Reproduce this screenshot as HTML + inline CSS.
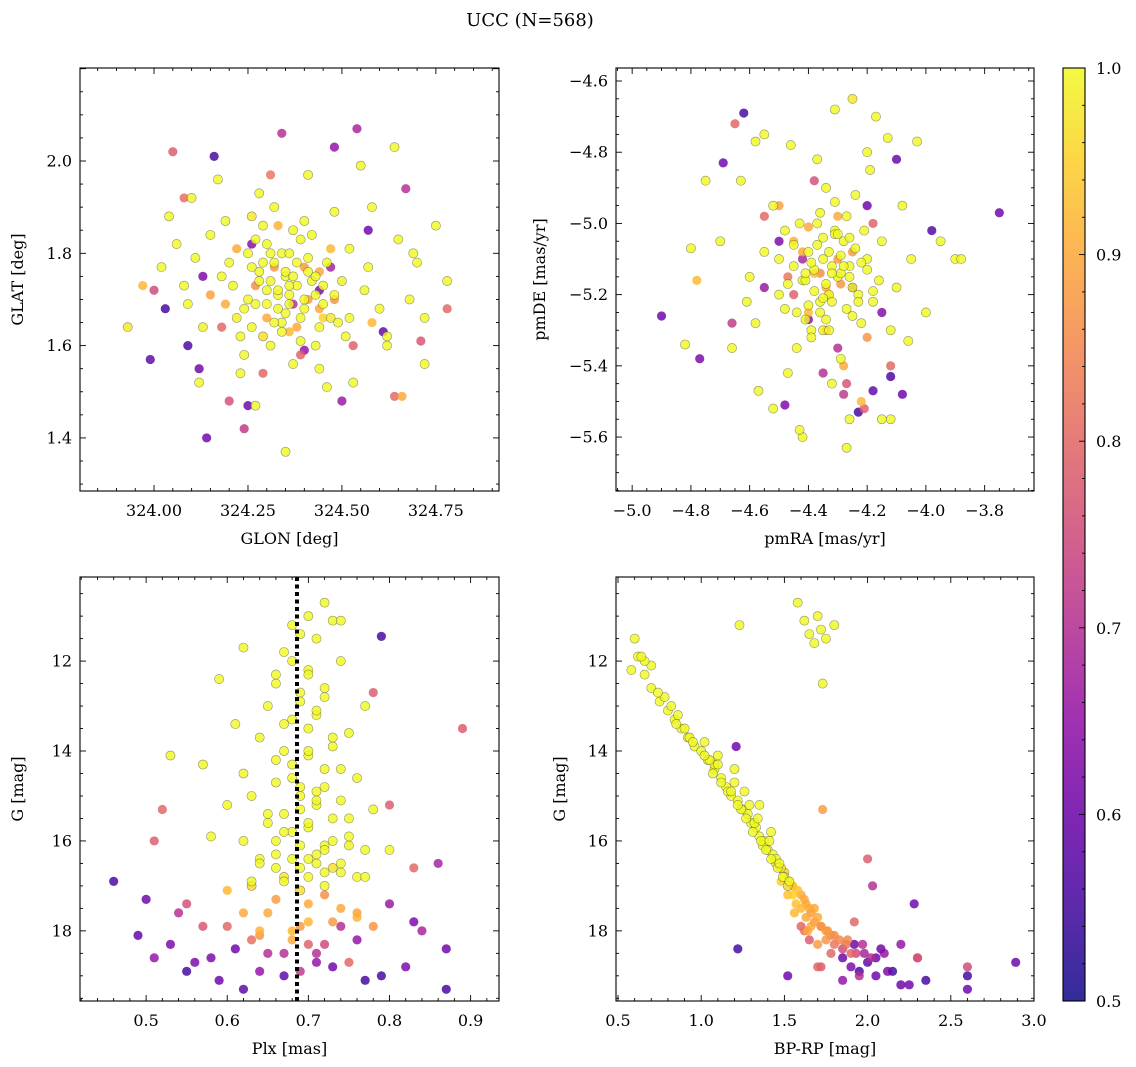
<!DOCTYPE html>
<html><head><meta charset="utf-8">
<style>
html,body{margin:0;padding:0;background:#fff;}
svg{display:block;font-family:"DejaVu Serif","Liberation Serif",serif;}
</style></head>
<body>
<svg id="fig" width="1136" height="1067" viewBox="0 0 1136 1067" xmlns="http://www.w3.org/2000/svg">
<defs>
<linearGradient id="plasma" x1="0" y1="1" x2="0" y2="0">
<stop offset="0" stop-color="#0d0887"/><stop offset="0.1" stop-color="#41049d"/><stop offset="0.2" stop-color="#6a00a8"/><stop offset="0.3" stop-color="#8f0da4"/><stop offset="0.4" stop-color="#b12a90"/><stop offset="0.5" stop-color="#cc4778"/><stop offset="0.6" stop-color="#e16462"/><stop offset="0.7" stop-color="#f2844b"/><stop offset="0.8" stop-color="#fca636"/><stop offset="0.9" stop-color="#fcce25"/><stop offset="1" stop-color="#f0f921"/>
</linearGradient>
</defs>
<text x="530" y="26" font-size="18" text-anchor="middle">UCC (N=568)</text>
</svg>
<script>
// Panel 1: GLON / GLAT
const glonVals=[324.30,324.35,324.40,324.38,324.33,324.42,324.28,324.36,324.45,324.31,
324.25,324.50,324.20,324.47,324.39,324.34,324.29,324.43,324.22,324.52,
324.18,324.56,324.15,324.60,324.26,324.48,324.37,324.32,324.44,324.11,
324.06,324.65,324.10,324.70,324.13,324.62,324.23,324.53,324.08,324.58,
324.04,324.75,324.12,324.68,324.27,324.46,324.17,324.55,324.35,324.64,
324.02,324.72,324.19,324.51,324.28,324.41,324.24,324.57,324.09,324.78,
324.30,324.40,324.36,324.22,324.48,324.33,324.27,324.44,324.15,324.58,
324.05,324.64,324.20,324.31,324.53,324.18,324.71,324.08,324.39,324.29,
324.16,324.54,324.25,324.48,323.99,324.03,324.13,324.50,324.57,324.67,
324.34,324.44,324.24,324.61,324.12,324.40,324.09,324.47,324.37,324.26,
323.93,323.97,324.78,324.72,324.66,324.00,324.62,324.69,324.45,324.14,
324.31,324.36,324.41,324.27,324.34,324.39,324.32,324.43,324.37,324.29];
const glatVals=[1.72,1.75,1.70,1.78,1.68,1.74,1.76,1.71,1.73,1.80,
1.70,1.74,1.78,1.66,1.83,1.65,1.62,1.60,1.66,1.81,
1.75,1.72,1.84,1.68,1.88,1.89,1.56,1.90,1.55,1.79,
1.82,1.83,1.92,1.78,1.64,1.60,1.54,1.52,1.73,1.90,
1.88,1.86,1.52,1.70,1.47,1.51,1.96,1.99,1.37,2.03,
1.77,1.66,1.87,1.62,1.93,1.97,1.58,1.77,1.69,1.74,
1.66,1.77,1.63,1.81,1.70,1.86,1.73,1.68,1.71,1.65,
2.02,1.49,1.48,1.97,1.60,1.64,1.61,1.92,1.58,1.54,
2.01,2.07,1.47,2.03,1.57,1.68,1.75,1.48,1.85,1.94,
2.06,1.72,1.42,1.63,1.55,1.59,1.60,1.77,1.69,1.82,
1.64,1.73,1.68,1.56,1.49,1.72,1.62,1.80,1.66,1.40,
1.74,1.69,1.76,1.69,1.80,1.66,1.65,1.71,1.75,1.78];
const probPos=[1,1,1,1,1,1,1,1,1,1,
1,.99,1,.98,1,1,.97,1,.99,1,
1,1,1,1,.98,1,1,1,1,1,
1,1,1,1,.99,1,1,1,1,1,
1,1,1,1,1,1,1,1,1,1,
1,1,1,1,1,1,1,1,1,1,
.9,.88,.92,.9,.87,.91,.86,.9,.89,.92,
.78,.8,.76,.82,.79,.8,.77,.81,.79,.8,
.55,.68,.6,.65,.58,.55,.62,.66,.6,.7,
.7,.62,.72,.58,.6,.65,.56,.68,.7,.63,
.98,.92,.8,1,.9,.75,1,1,.95,.6,
1,1,1,1,1,1,1,1,1,1];
const glonCore=[324.21,324.24,324.26,324.28,324.30,324.32,324.33,324.35,324.36,324.38,
324.40,324.41,324.43,324.44,324.46,324.48,324.30,324.34,324.37,324.39,
324.23,324.27,324.31,324.35,324.42,324.45,324.49,324.25,324.29,324.33,
324.38,324.41,324.47,324.19,324.52,324.36,324.32,324.44,324.26,324.40];
const glatCore=[1.73,1.68,1.77,1.74,1.69,1.78,1.71,1.67,1.80,1.73,
1.68,1.79,1.75,1.64,1.78,1.71,1.82,1.63,1.85,1.61,
1.62,1.83,1.60,1.76,1.84,1.69,1.65,1.80,1.86,1.72,
1.64,1.70,1.81,1.69,1.66,1.73,1.77,1.76,1.64,1.87];
const probPosCore=[1,1,1,1,1,1,1,1,1,1,1,1,1,1,1,1,1,1,1,1,1,1,1,1,1,1,1,1,1,1,
.9,.88,.92,.9,1,1,.87,.9,1,1];
// Panel 2: pmRA / pmDE
const pmraVals=[-4.35,-4.30,-4.40,-4.28,-4.33,-4.38,-4.25,-4.42,-4.31,-4.36,
-4.45,-4.20,-4.50,-4.18,-4.27,-4.48,-4.22,-4.55,-4.15,-4.39,
-4.60,-4.10,-4.52,-4.12,-4.34,-4.44,-4.24,-4.58,-4.05,-4.29,
-4.70,-4.00,-4.63,-3.95,-4.37,-4.47,-4.19,-4.66,-4.08,-4.32,
-4.75,-3.90,-4.55,-4.03,-4.31,-4.42,-4.17,-4.57,-4.12,-4.27,
-4.80,-4.52,-4.46,-4.20,-4.35,-4.26,-4.41,-4.13,-4.61,-4.06,
-4.33,-4.25,-4.40,-4.30,-4.20,-4.45,-4.36,-4.28,-4.50,-4.22,
-4.21,-4.65,-4.38,-4.47,-4.18,-4.55,-4.27,-4.34,-4.45,-4.12,
-4.90,-3.75,-4.62,-4.77,-4.23,-4.18,-4.12,-3.98,-4.10,-4.48,
-4.40,-4.30,-4.50,-4.25,-4.35,-4.15,-4.55,-4.20,-4.42,-4.28,
-4.58,-4.43,-3.88,-4.78,-4.82,-4.66,-4.69,-4.15,-4.25,-4.08,
-4.32,-4.37,-4.29,-4.34,-4.39,-4.31,-4.36,-4.26,-4.41,-4.33];
const pmdeVals=[-5.10,-5.15,-5.08,-5.05,-5.20,-5.13,-5.18,-5.16,-5.02,-5.25,
-5.12,-5.10,-5.20,-5.22,-4.98,-5.02,-5.28,-5.08,-5.05,-5.30,
-5.15,-5.18,-4.95,-5.30,-4.90,-5.35,-4.92,-5.28,-5.10,-5.38,
-5.05,-5.25,-4.88,-5.05,-4.82,-5.42,-4.85,-5.35,-4.95,-5.45,
-4.88,-5.10,-4.75,-4.77,-4.68,-5.60,-4.70,-5.47,-5.55,-5.63,
-5.07,-5.52,-4.78,-4.80,-5.30,-5.55,-5.27,-4.76,-5.22,-5.33,
-5.20,-5.08,-5.25,-4.98,-5.32,-5.05,-5.14,-5.40,-4.95,-5.50,
-5.52,-4.72,-4.88,-5.15,-5.00,-4.98,-5.45,-5.30,-5.20,-5.40,
-5.26,-4.97,-4.69,-5.38,-5.53,-5.47,-5.43,-5.02,-4.82,-5.51,
-5.27,-5.35,-5.05,-5.18,-5.42,-5.25,-5.18,-4.95,-5.10,-5.48,
-4.77,-5.58,-5.10,-5.16,-5.34,-5.28,-4.83,-5.55,-4.65,-5.48,
-5.12,-5.06,-5.14,-5.17,-5.11,-5.03,-5.22,-5.12,-5.16,-5.08];
const probPm=[1,1,1,1,1,1,1,1,1,1,
1,1,1,1,1,1,1,1,1,1,
1,1,1,1,1,1,1,1,1,1,
1,1,1,1,1,1,1,1,1,1,
1,1,1,1,1,1,1,1,1,1,
1,1,1,1,1,1,1,1,1,1,
.9,.88,.92,.9,.87,.91,.86,.9,.89,.92,
.78,.8,.76,.82,.79,.8,.77,.81,.79,.8,
.6,.6,.55,.62,.55,.58,.56,.57,.6,.62,
.65,.7,.62,.68,.7,.63,.66,.6,.68,.72,
1,1,1,.92,1,.72,.6,1,.98,.6,
1,1,1,1,1,1,1,1,1,1];
const pmraCore=[-4.45,-4.41,-4.38,-4.35,-4.32,-4.29,-4.26,-4.23,-4.20,-4.47,
-4.43,-4.40,-4.37,-4.34,-4.30,-4.27,-4.24,-4.21,-4.18,-4.50,
-4.36,-4.33,-4.31,-4.28,-4.39,-4.44,-4.25,-4.22,-4.48,-4.16,
-4.34,-4.30,-4.38,-4.42,-4.26,-4.35,-4.29,-4.40,-4.23,-4.32];
const pmdeCore=[-5.06,-5.14,-5.19,-5.04,-5.22,-5.09,-5.15,-5.20,-5.13,-5.17,
-5.00,-5.23,-5.00,-5.27,-5.03,-5.24,-5.07,-5.02,-5.19,-5.10,
-4.97,-5.30,-4.94,-5.12,-5.32,-5.25,-5.26,-5.11,-5.24,-5.16,
-5.18,-5.10,-5.14,-5.08,-5.04,-5.21,-5.17,-5.01,-5.22,-5.14];
const probPmCore=[1,1,1,1,1,1,1,1,1,1,1,1,1,1,1,1,1,1,1,1,1,1,1,1,1,1,1,1,1,1,
.9,.88,.92,.9,1,1,.87,.9,1,1];
// Panel 3: Plx / G
const plxVals=[.72,.70,.73,.68,.69,.71,.67,.74,.70,.66,
.69,.72,.65,.71,.68,.70,.75,.64,.73,.67,
.70,.68,.72,.62,.76,.66,.69,.71,.63,.74,
.60,.78,.67,.73,.65,.70,.68,.75,.62,.72,
.77,.66,.64,.71,.69,.74,.58,.80,.67,.72,
.53,.57,.59,.61,.62,.79,.74,.77,.89,.66,
.62,.66,.70,.74,.78,.64,.72,.68,.76,.60,
.52,.51,.55,.60,.80,.83,.57,.63,.70,.75,
.46,.50,.49,.53,.55,.58,.61,.64,.67,.86,
.71,.73,.76,.79,.82,.84,.87,.80,.77,.69,
.51,.54,.56,.59,.62,.65,.78,.83,.74,.87,
.64,.67,.70,.73,.76,.63,.69,.72,.66,.75];
const gPlxVals=[10.7,11.0,11.1,11.2,11.4,11.5,11.8,12.0,12.2,12.5,
12.7,12.8,13.0,13.2,13.3,13.5,13.6,13.7,13.9,14.0,
14.1,14.3,14.4,14.5,14.6,14.7,14.8,14.9,15.0,15.1,
15.2,15.3,15.4,15.5,15.6,15.7,15.8,15.9,16.0,16.1,
16.2,16.3,16.4,16.5,16.6,16.7,15.9,16.2,16.9,17.0,
14.1,14.3,12.4,13.4,11.7,11.45,11.1,13.0,13.5,12.3,
17.6,17.3,17.8,17.5,17.9,18.0,17.2,18.2,17.6,17.1,
15.3,16.0,17.4,17.9,15.2,16.6,17.9,18.2,18.3,18.7,
16.9,17.3,18.1,18.3,18.9,18.6,18.4,18.9,19.0,16.5,
18.5,18.8,18.2,19.0,18.8,18.0,18.4,17.4,19.1,18.9,
18.6,17.6,18.7,19.1,19.3,18.5,12.7,17.8,17.9,19.3,
16.5,16.8,16.4,16.6,16.8,17.0,17.1,16.2,16.0,16.1];
const probPlx=[1,1,1,1,1,1,1,1,1,1,
1,1,1,1,1,1,1,1,1,1,
1,1,1,1,1,1,1,1,1,1,
1,1,1,1,1,1,1,1,1,1,
1,1,1,1,1,1,1,1,1,1,
1,1,1,1,1,.55,1,1,.78,1,
.9,.88,.92,.9,.87,.91,.86,.9,.89,.92,
.8,.78,.76,.8,.78,.8,.77,.81,.79,.8,
.55,.6,.58,.62,.55,.62,.6,.65,.58,.68,
.7,.6,.65,.55,.62,.68,.6,.66,.55,.72,
.65,.7,.62,.6,.58,.7,.78,.62,.7,.55,
1,.98,1,.97,1,.96,.97,1,1,.99];
const plxCore=[.68,.70,.72,.69,.71,.67,.73,.70,.66,.74,
.68,.72,.69,.71,.65,.75,.70,.67,.73,.69,
.71,.68,.74,.66,.72,.70,.63,.77,.69,.71,
.65,.73,.68,.70,.64,.76,.72,.67,.71,.69];
const gPlxCore=[12.0,12.3,12.6,12.9,13.1,13.4,13.7,14.0,14.2,14.4,
14.6,14.8,15.0,15.2,15.4,15.5,15.6,15.8,16.0,16.1,
16.3,16.4,16.5,16.6,16.7,16.8,16.9,16.8,15.3,15.1,
17.6,17.8,18.0,17.4,18.1,17.7,18.3,18.5,18.7,17.9];
const probPlxCore=[1,1,1,1,1,1,1,1,1,1,1,1,1,1,1,1,1,1,1,1,1,1,1,1,1,1,1,1,1,1,
.9,.88,.92,.9,.87,.91,.75,.7,.65,.88];
const plxRef=[0.686];
// Panel 4: BP-RP / G
const bprpVals=[.60,.62,.66,.70,.75,.80,.84,.88,.92,.96,
1.00,1.04,1.08,1.12,1.15,1.18,1.22,1.25,1.28,1.30,
1.33,1.35,1.38,1.40,1.43,1.45,1.48,1.50,1.53,1.55,
.70,.78,.86,.93,1.02,1.08,1.20,1.26,1.35,1.42,
1.23,1.58,1.62,1.70,1.72,1.75,1.68,1.65,1.73,1.80,
1.55,1.60,1.63,1.66,1.70,1.72,1.75,1.78,1.68,1.73,
1.60,1.65,1.80,1.85,1.90,1.62,1.72,1.78,2.00,1.92,
1.85,1.90,1.95,2.00,2.05,2.10,2.15,2.20,1.98,2.08,
2.25,2.30,2.35,2.60,2.60,2.89,2.28,1.22,1.52,2.03,
1.21,2.60,2.30,1.92,1.85,1.95,1.70,2.12,1.88,2.02,
.74,.82,.90,1.05,1.16,1.24,1.32,1.37,1.45,1.50,
1.58,1.62,1.65,1.48,1.52,1.56,.66,.58,.64,1.10];
const gCmdVals=[11.5,11.9,12.3,12.6,12.9,13.1,13.3,13.5,13.7,13.9,
14.0,14.2,14.4,14.6,14.8,15.0,15.1,15.3,15.4,15.6,
15.7,15.9,16.0,16.2,16.3,16.5,16.6,16.7,16.9,17.0,
12.1,12.8,13.2,13.7,13.8,14.3,14.4,14.9,15.2,15.8,
11.2,10.7,11.1,11.0,11.3,11.5,11.6,11.4,12.5,11.2,
17.0,17.2,17.4,17.6,17.7,17.9,18.0,18.1,17.5,15.3,
17.9,18.2,18.3,18.4,18.5,18.0,18.8,18.5,16.4,17.8,
18.6,18.8,18.9,18.7,19.0,18.5,18.9,19.2,18.5,18.4,
19.2,18.6,19.1,19.0,19.3,18.7,17.4,18.4,19.0,17.0,
13.9,18.8,18.6,18.3,19.1,19.0,18.8,18.9,18.2,18.6,
12.7,13.0,13.5,14.2,14.9,15.3,15.6,16.1,16.4,16.8,
17.1,17.3,17.5,16.9,17.2,17.6,12.0,12.2,11.9,14.1];
const probCmd=[1,1,1,1,1,1,1,1,1,1,
1,1,1,1,1,1,1,1,1,1,
1,1,1,1,1,.98,.97,.96,.95,.94,
1,1,1,1,1,1,1,1,1,1,
1,1,1,1,1,1,1,1,1,1,
.92,.9,.9,.88,.9,.87,.88,.86,.9,.88,
.8,.78,.82,.75,.8,.82,.78,.8,.78,.8,
.6,.62,.55,.58,.6,.65,.55,.6,.68,.6,
.6,.7,.55,.55,.6,.6,.6,.55,.6,.7,
.6,.75,.78,.6,.65,.7,.8,.62,.85,.7,
1,1,1,1,1,1,1,1,1,1,
.93,.9,.9,.95,.93,.92,1,1,1,1];
const bprpCore=[.85,.95,1.02,1.07,1.12,1.18,1.22,1.27,1.31,1.36,
1.39,1.42,1.46,1.49,1.52,1.55,1.57,1.60,1.63,1.66,
1.10,1.20,1.29,1.34,1.41,1.47,1.53,1.68,1.72,1.76,
1.80,1.83,1.87,1.64,1.70,1.75,1.93,1.97,2.05,2.20];
const gCmdCore=[13.4,13.8,14.1,14.5,14.7,14.9,15.2,15.5,15.8,16.0,
16.2,16.4,16.6,16.8,17.0,17.2,17.4,17.5,17.7,17.9,
14.3,14.7,15.2,15.5,16.0,16.5,16.9,17.8,17.9,18.0,
18.1,18.2,18.3,18.0,18.3,18.2,18.5,18.3,18.6,18.3];
const probCmdCore=[1,1,1,1,1,1,1,1,1,1,1,1,1,1,
.96,.95,.93,.92,.9,.9,
1,1,1,1,1,1,1,
.88,.87,.88,.86,.85,.82,.9,.88,.87,.75,.7,.6,.65];
const cbarTicks=[0.5,0.6,0.7,0.8,0.9,1.0];

const NS='http://www.w3.org/2000/svg';
const svg=document.getElementById('fig');
function mk(tag,attrs,parent){const e=document.createElementNS(NS,tag);for(const k in attrs)e.setAttribute(k,attrs[k]);(parent||svg).appendChild(e);return e;}
const stops=[[0,[13,8,135]],[.1,[65,4,157]],[.2,[106,0,168]],[.3,[143,13,164]],[.4,[177,42,144]],[.5,[204,71,120]],[.6,[225,100,98]],[.7,[242,132,75]],[.8,[252,166,54]],[.9,[252,206,37]],[1,[240,249,33]]];
function plasma(p){let t=Math.max(0,Math.min(1,(p-0.5)/0.5));for(let i=1;i<stops.length;i++){if(t<=stops[i][0]){const a=stops[i-1],b=stops[i];const f=(t-a[0])/(b[0]-a[0]);const c=a[1].map((v,j)=>Math.round(v+(b[1][j]-v)*f));return 'rgb('+c.join(',')+')';}}return 'rgb(240,249,33)';}

function panel(cfg){
  const g=mk('g',{});
  
  
  const {x0,x1,y0,y1,xmin,xmax,ymin,ymax,inv}=cfg;
  const sx=v=>x0+(v-xmin)/(xmax-xmin)*(x1-x0);
  const sy=inv?(v=>y0+(v-ymin)/(ymax-ymin)*(y1-y0)):(v=>y1-(v-ymin)/(ymax-ymin)*(y1-y0));
  const clip='clip-'+cfg.name;
  const cp=mk('clipPath',{id:clip},g);mk('rect',{x:x0,y:y0,width:x1-x0,height:y1-y0},cp);
  const pts=mk('g',{'clip-path':'url(#'+clip+')'},g);
  
  
  const idx=cfg.xs.map((_,i)=>i).sort((a,b)=>cfg.ps[a]-cfg.ps[b]);
  idx.forEach(i=>{
    const c=mk('circle',{cx:sx(cfg.xs[i]),cy:sy(cfg.ys[i]),r:4.6,fill:plasma(cfg.ps[i]),'fill-opacity':0.82,stroke:cfg.ps[i]>0.95?'rgba(60,60,60,0.55)':'none','stroke-width':0.6},pts);
    
    
  });
  if(cfg.vline!==undefined){
    const l=mk('line',{x1:sx(cfg.vline),x2:sx(cfg.vline),y1:y0,y2:y1,stroke:'#000','stroke-width':4,'stroke-dasharray':'4,3.5'},g);
    
    
  }
  const fr=mk('rect',{x:x0,y:y0,width:x1-x0,height:y1-y0,fill:'none',stroke:'#000','stroke-width':1.1},g);
  
  
  const ax=mk('g',{stroke:'#000','stroke-width':0.9},g);
  const eps=1e-9;
  for(let v=Math.ceil(xmin/cfg.xminor-eps)*cfg.xminor;v<=xmax+eps;v+=cfg.xminor){
    const X=sx(v);const maj=Math.abs(v/cfg.xmajor-Math.round(v/cfg.xmajor))<1e-6;const L=maj?6:3;
    mk('line',{x1:X,x2:X,y1:y1,y2:y1-L},ax);mk('line',{x1:X,x2:X,y1:y0,y2:y0+L},ax);
  }
  const ylo=Math.min(ymin,ymax),yhi=Math.max(ymin,ymax);
  for(let v=Math.ceil(ylo/cfg.yminor-eps)*cfg.yminor;v<=yhi+eps;v+=cfg.yminor){
    const Y=sy(v);const maj=Math.abs(v/cfg.ymajor-Math.round(v/cfg.ymajor))<1e-6;const L=maj?6:3;
    mk('line',{x1:x0,x2:x0+L,y1:Y,y2:Y},ax);mk('line',{x1:x1,x2:x1-L,y1:Y,y2:Y},ax);
  }
  cfg.xticks.forEach(v=>{const t=mk('text',{x:sx(v),y:y1+25,'font-size':16,'text-anchor':'middle'},g);t.textContent=(v<0?'\u2212':'')+Math.abs(v).toFixed(cfg.xdec);});
  cfg.yticks.forEach(v=>{const t=mk('text',{x:x0-8,y:sy(v)+5.5,'font-size':16,'text-anchor':'end'},g);t.textContent=(v<0?'\u2212':'')+Math.abs(v).toFixed(cfg.ydec);});
  const xt=mk('text',{x:(x0+x1)/2,y:y1+53,'font-size':16,'text-anchor':'middle'},g);xt.textContent=cfg.xlabel;
  
  
  const yx=cfg.ylabx,yy=(y0+y1)/2;
  const yt=mk('text',{x:yx,y:yy,'font-size':16,'text-anchor':'middle',transform:'rotate(-90 '+yx+' '+yy+')'},g);yt.textContent=cfg.ylabel;
  
  
}

panel({name:'glon-glat-panel',x0:80,x1:499,y0:68,y1:491,xmin:323.803,xmax:324.918,ymin:1.285,ymax:2.2015,xs:glonVals.concat(glonCore),ys:glatVals.concat(glatCore),ps:probPos.concat(probPosCore),xmajor:0.25,xminor:0.05,ymajor:0.2,yminor:0.05,xticks:[324.0,324.25,324.5,324.75],xdec:2,yticks:[1.4,1.6,1.8,2.0],ydec:1,xlabel:'GLON [deg]',ylabel:'GLAT [deg]',ylabx:23});
panel({name:'pm-panel',x0:616,x1:1034,y0:68,y1:491,xmin:-5.055,xmax:-3.632,ymin:-5.7515,ymax:-4.5635,xs:pmraVals.concat(pmraCore),ys:pmdeVals.concat(pmdeCore),ps:probPm.concat(probPmCore),xmajor:0.2,xminor:0.05,ymajor:0.2,yminor:0.05,xticks:[-5.0,-4.8,-4.6,-4.4,-4.2,-4.0,-3.8],xdec:1,yticks:[-5.6,-5.4,-5.2,-5.0,-4.8,-4.6],ydec:1,xlabel:'pmRA [mas/yr]',ylabel:'pmDE [mas/yr]',ylabx:545});
panel({name:'plx-g-panel',x0:80,x1:499,y0:577,y1:1001,xmin:0.4185,xmax:0.935,ymin:10.13,ymax:19.56,inv:true,xs:plxVals.concat(plxCore),ys:gPlxVals.concat(gPlxCore),ps:probPlx.concat(probPlxCore),vline:plxRef[0],xmajor:0.1,xminor:0.02,ymajor:2,yminor:0.5,xticks:[0.5,0.6,0.7,0.8,0.9],xdec:1,yticks:[12,14,16,18],ydec:0,xlabel:'Plx [mas]',ylabel:'G [mag]',ylabx:23});
panel({name:'cmd-panel',x0:616,x1:1034,y0:577,y1:1001,xmin:0.488,xmax:3.0,ymin:10.13,ymax:19.56,inv:true,xs:bprpVals.concat(bprpCore),ys:gCmdVals.concat(gCmdCore),ps:probCmd.concat(probCmdCore),xmajor:0.5,xminor:0.1,ymajor:2,yminor:0.5,xticks:[0.5,1.0,1.5,2.0,2.5,3.0],xdec:1,yticks:[12,14,16,18],ydec:0,xlabel:'BP-RP [mag]',ylabel:'G [mag]',ylabx:565});

// colorbar
const cb=mk('g',{});


const cx0=1063,cx1=1085,cy0=68,cy1=1001;
mk('rect',{x:cx0,y:cy0,width:cx1-cx0,height:cy1-cy0,fill:'url(#plasma)','fill-opacity':0.85},cb);
mk('rect',{x:cx0,y:cy0,width:cx1-cx0,height:cy1-cy0,fill:'none',stroke:'#000','stroke-width':1.1},cb);
const cy=v=>cy1-(v-0.5)/0.5*(cy1-cy0);
for(let k=0;k<=25;k++){const v=0.5+k*0.02;const maj=k%5===0;mk('line',{x1:cx1,x2:cx1-(maj?6:3),y1:cy(v),y2:cy(v),stroke:'#000','stroke-width':0.9},cb);}
cbarTicks.forEach(v=>{const t=mk('text',{x:1096,y:cy(v)+6,'font-size':16},cb);t.textContent=v.toFixed(1);

});
</script>
</body></html>
